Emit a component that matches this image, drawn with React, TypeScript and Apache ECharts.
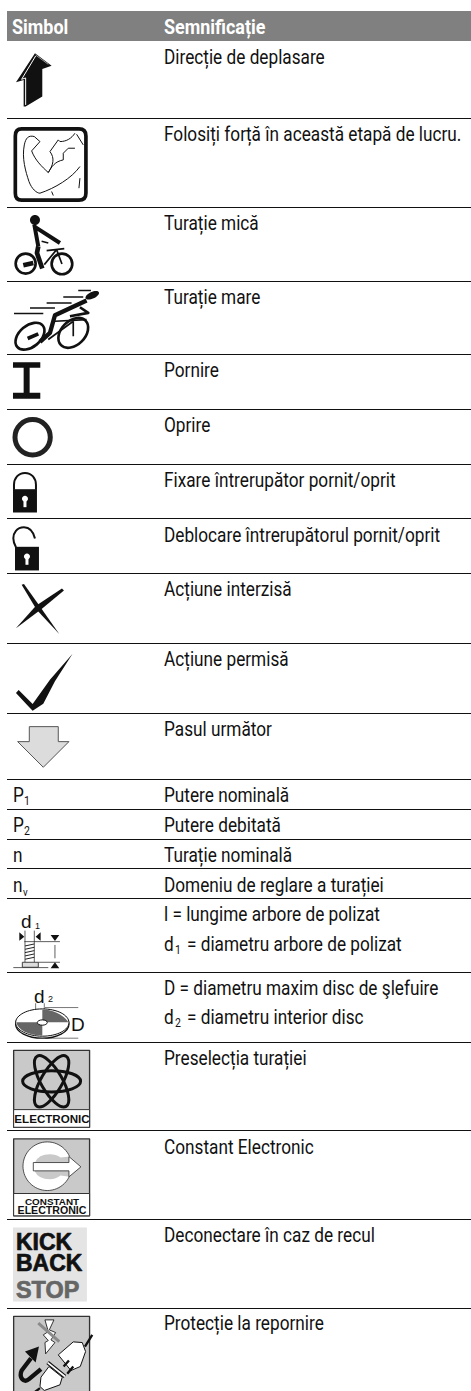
import React, { useEffect, useRef } from "react";
import * as echarts from "echarts";

const headers = ["Simbol", "Semnificație"];
const meanings = [
  "Direcție de deplasare",
  "Folosiți forță în această etapă de lucru.",
  "Turație mică",
  "Turație mare",
  "Pornire",
  "Oprire",
  "Fixare întrerupător pornit/oprit",
  "Deblocare întrerupătorul pornit/oprit",
  "Acțiune interzisă",
  "Acțiune permisă",
  "Pasul următor",
  "Putere nominală",
  "Putere debitată",
  "Turație nominală",
  "Domeniu de reglare a turației",
  "l = lungime arbore de polizat",
  "= diametru arbore de polizat",
  "D = diametru maxim disc de şlefuire",
  "= diametru interior disc",
  "Preselecția turației",
  "Constant Electronic",
  "Deconectare în caz de recul",
  "Protecție la repornire",
];
const baselines = [63, 140, 229, 303, 376, 431, 486, 541, 595, 665, 735, 801, 831, 861, 891, 920, 950, 994, 1023, 1064, 1153, 1241, 1329];
const rules = [118, 207, 281, 354, 409, 464, 518, 573, 643, 713, 779, 809, 839, 868, 898, 972, 1042, 1130, 1219, 1308];
const FONT = "Roboto, sans-serif";
const ARIAL = "'Liberation Sans', Arial, sans-serif";
const TX = 164;
const TS = 19.7;
const SX = 0.874;

const ell = (cx: number, cy: number, rx: number, ry: number, deg = 0) => {
  const a = (deg * Math.PI) / 180;
  const c = Math.cos(a), s = Math.sin(a), k = 0.5523;
  const p = (x: number, y: number) => `${(cx + x * rx * c - y * ry * s).toFixed(2)} ${(cy + x * rx * s + y * ry * c).toFixed(2)}`;
  return `M${p(1, 0)}C${p(1, k)} ${p(k, 1)} ${p(0, 1)}C${p(-k, 1)} ${p(-1, k)} ${p(-1, 0)}C${p(-1, -k)} ${p(-k, -1)} ${p(0, -1)}C${p(k, -1)} ${p(1, -k)} ${p(1, 0)}Z`;
};
const circ = (cx: number, cy: number, r: number) => ell(cx, cy, r, r);

type Ic = { d: string; o: [number, number]; fill?: string; stroke?: string; lw?: number };
const Z2: [number, number] = [0, 350];
const Z3: [number, number] = [0, 700];
const Z4: [number, number] = [0, 1041];
const Z5: [number, number] = [5, 45];
const Z6: [number, number] = [5, 208];
const Z7: [number, number] = [5, 900];
const Z9: [number, number] = [5, 1220];
const K = "#111";
const G = "#c9c9c9";

const icons: Ic[] = [
  // arrow
  { d: "M90 25L140 62L112 72L112 155L62 185L56 185L56 105L33 112Z", o: Z5, fill: K },
  { d: "M92 33L50 103L62 99L62 180", o: Z5, stroke: "#fff", lw: 3 },
  { d: "M92 30L130 58", o: Z5, stroke: "#ddd", lw: 2 },
  // arm
  { d: "M62 252H222Q243 252 243 273V445Q243 466 222 466H50Q31 466 31 445V273Q31 252 50 252Z", o: Z5, stroke: K, lw: 11, fill: "#fff" },
  { d: "M88 275C70 270 62 280 58 300C50 340 62 380 72 410C80 432 95 445 105 445C150 430 200 400 225 365", o: Z5, stroke: K, lw: 3 },
  { d: "M88 275L105 290L80 318C90 345 110 365 130 383C145 360 150 340 135 320L160 285L165 290C185 290 200 280 210 265", o: Z5, stroke: K, lw: 3 },
  { d: "M130 383C140 365 150 350 175 345L175 325L190 310L210 310", o: Z5, stroke: K, lw: 3 },
  { d: "M215 268L235 300M225 400L222 430M140 440L145 452", o: Z5, stroke: K, lw: 3 },
  // slow bike
  { d: circ(90, 36, 15), o: Z6, fill: K },
  { d: "M88 50L100 115M92 58L165 105", o: Z6, stroke: K, lw: 12 },
  { d: "M100 115L96 135L112 182", o: Z6, stroke: K, lw: 14 },
  { d: circ(62, 167, 30), o: Z6, stroke: K, lw: 8 },
  { d: circ(171, 168, 31), o: Z6, stroke: K, lw: 8 },
  { d: "M55 172L85 165", o: Z6, stroke: K, lw: 14 },
  { d: "M125 128L178 122M118 170L155 125L171 168M110 100L130 105", o: Z6, stroke: K, lw: 5 },
  // fast bike
  { d: ell(262, 262, 22, 10, -25), o: Z6, fill: K },
  { d: "M245 278L150 322L135 375L105 402", o: Z6, stroke: K, lw: 13 },
  { d: "M225 298L250 315L195 325", o: Z6, stroke: K, lw: 8 },
  { d: "M220 248H258M175 267H235M125 285H200M75 300H150M27 317H115", o: Z6, stroke: K, lw: 4.5 },
  { d: ell(75, 385, 50, 32, -40), o: Z6, stroke: K, lw: 8 },
  { d: ell(205, 375, 52, 36, -45), o: Z6, stroke: K, lw: 8 },
  { d: "M68 392L100 378", o: Z6, stroke: K, lw: 11 },
  { d: "M150 340L245 335M130 395L205 340L205 385", o: Z6, stroke: K, lw: 5 },
  // start
  { d: "M39 388H121V405H89V480H121V498H39V480H71V405H39Z", o: [0, 233], fill: K },
  // stop
  { d: circ(98, 262, 53), o: Z2, stroke: "#222", lw: 15 },
  // lock
  { d: "M42 420V405C42 385 55 369 75 369C95 369 108 385 108 405V420", o: Z2, stroke: K, lw: 6 },
  { d: "M39 418H111V488H39Z", o: Z2, fill: K },
  { d: circ(75, 447, 9), o: Z2, fill: "#fff" },
  { d: "M75 447V472", o: Z2, stroke: "#fff", lw: 9 },
  // unlock
  { d: "M105 566C100 545 90 532 72 532C50 532 40 550 40 565C40 575 44 585 48 592", o: Z2, stroke: K, lw: 6 },
  { d: "M45 591H117V662H45Z", o: Z2, fill: K },
  { d: circ(81, 620, 9), o: Z2, fill: "#fff" },
  { d: "M81 620V645", o: Z2, stroke: "#fff", lw: 9 },
  // cross
  { d: "M65 705L72 703L120 770L178 853L110 780Z", o: Z2, fill: K },
  { d: "M186 716L192 722L125 778L47 836L108 768Z", o: Z2, fill: K },
  // tick
  { d: "M48 1030L56 1021L98 1063L150 990L218 912L165 995L130 1062L98 1083L85 1070Z", o: Z2, fill: K },
  // next step
  { d: "M88 80H175V125H207L130 202L53 125H88Z", o: Z3, fill: "#dcdcdc", stroke: "#555", lw: 3 },
  // d1 figure
  { d: "M43 97L58 110L43 122ZM107 97L92 110L107 122ZM137 105H163L150 123ZM137 205H163L150 187Z", o: Z7, fill: K },
  { d: "M60 92V187M88 92V187M58 125H165M150 135V175M100 187H165M25 203H130", o: Z7, stroke: "#222", lw: 2.2 },
  { d: "M60 138L88 132M60 148L88 142M60 158L88 152M60 168L88 162M60 178L88 172", o: Z7, stroke: "#222", lw: 3 },
  { d: "M52 187H100V202H52Z", o: Z7, fill: "#ddd", stroke: "#222", lw: 2.5 },
  // disc
  { d: "M120 323H220M120 415H220M92 310V365M118 310V335", o: Z7, stroke: "#333", lw: 2 },
  { d: ell(112, 373, 80, 42), o: Z7, fill: "#fff", stroke: K, lw: 4 },
  { d: ell(112, 368, 80, 41), o: Z7, fill: "#fff", stroke: K, lw: 3 },
  { d: "M112 329C140 329 178 345 190 367L112 367Z", o: Z7, fill: "#666" },
  { d: "M34 367L112 367L112 407C70 407 38 390 34 367Z", o: Z7, fill: "#666" },
  { d: ell(112, 368, 15, 8), o: Z7, fill: "#fff", stroke: K, lw: 3 },
  // electronic box
  { d: "M41 28H269V259H41Z", o: Z4, fill: G, stroke: "#333", lw: 4 },
  { d: "M41 206H269V259H41Z", o: Z4, fill: "#fff", stroke: "#333", lw: 3 },
  { d: ell(155, 121, 87, 32), o: Z4, stroke: K, lw: 9 },
  { d: ell(155, 121, 87, 32, 60), o: Z4, stroke: K, lw: 9 },
  { d: ell(155, 121, 87, 32, -60), o: Z4, stroke: K, lw: 9 },
  // constant electronic box
  { d: "M41 294H269V525H41Z", o: Z4, fill: G, stroke: "#333", lw: 4 },
  { d: "M41 458H269V525H41Z", o: Z4, fill: "#fff", stroke: "#333", lw: 3 },
  { d: circ(142, 376, 73), o: Z4, fill: "#fff", stroke: "#333", lw: 2.5 },
  { d: "M105 365Q115 340 150 340Q168 340 182 350L225 345L225 410L182 404Q168 415 150 415Q115 415 105 392Z", o: Z4, fill: G },
  { d: "M100 365H207V347L243 378L207 408V390H100Z", o: Z4, fill: "#fff", stroke: "#333", lw: 2.5 },
  // kick back stop panel
  { d: "M39 560H261V782H39Z", o: Z4, fill: "#e4e4e4" },
  // protection box
  { d: "M41 827H269V1100H41Z", o: Z4, fill: G, stroke: "#333", lw: 4 },
  { d: "M120 300L147 300L133 330L152 338L138 360L150 368L122 402L120 368L130 362L115 345L130 335Z", o: Z9, fill: "#fff", stroke: K, lw: 2.5 },
  { d: "M100 310L163 365", o: Z9, stroke: "#8a8a8a", lw: 9 },
  { d: "M108 448L72 478C60 488 48 480 47 466C47 460 48 456 50 452L78 415", o: Z9, stroke: K, lw: 13 },
  { d: "M102 380L60 395L92 428Z", o: Z9, fill: K },
  { d: "M240 380L262 345", o: Z9, stroke: K, lw: 7 },
  { d: "M160 405L205 366L232 368L242 395L226 440L198 452Z", o: Z9, fill: "#fff", stroke: K, lw: 3 },
  { d: "M176 440L192 422M187 462L205 440", o: Z9, stroke: K, lw: 7 },
  { d: "M128 428L180 470", o: Z9, stroke: K, lw: 12 },
  { d: "M128 428L180 470", o: Z9, stroke: "#fff", lw: 5 },
  { d: "M132 440L172 472L165 495L118 512L105 500L108 472Z", o: Z9, fill: "#fff", stroke: K, lw: 3 },
  { d: "M105 505L85 520", o: Z9, stroke: K, lw: 7 },
];

const labelT = (text: string, x: number, base: number, size: number, extra: any = {}) => ({
  type: "text",
  x,
  y: base - size * 0.28,
  scaleX: extra.scaleX ?? 1,
  style: {
    text,
    fontSize: size,
    fontFamily: extra.family ?? FONT,
    fontWeight: extra.weight ?? "normal",
    fill: extra.fill ?? "#111",
    stroke: extra.stroke,
    lineWidth: extra.lineWidth,
    lineHeight: extra.lineHeight,
    align: extra.align ?? "left",
    verticalAlign: "middle",
  },
});

export default function App() {
  const ref = useRef<HTMLDivElement>(null);
  useEffect(() => {
    const chart = echarts.init(ref.current!, undefined, { renderer: "svg" });
    icons.forEach((ic, i) => {
      echarts.graphic.registerShape("ic" + i, echarts.graphic.extendPath(ic.d, {}) as any);
    });
    const graphic: any[] = [];
    graphic.push({ type: "rect", shape: { x: 7, y: 11, width: 464, height: 30 }, style: { fill: "#808080" } });
    graphic.push(labelT(headers[0], 12, 33, TS, { weight: "bold", fill: "#fff", scaleX: 0.91 }));
    graphic.push(labelT(headers[1], TX, 33, TS, { weight: "bold", fill: "#fff", scaleX: 0.91 }));
    rules.forEach((y) => graphic.push({ type: "rect", shape: { x: 7, y, width: 464, height: 1 }, style: { fill: "#111" } }));
    icons.forEach((ic, i) => {
      graphic.push({
        type: "ic" + i,
        x: ic.o[0],
        y: ic.o[1],
        scaleX: 1 / 3,
        scaleY: 1 / 3,
        style: { fill: ic.fill ?? "none", stroke: ic.stroke ?? "none", lineWidth: ic.lw ?? 1, lineJoin: "round" },
      });
    });
    meanings.forEach((m, i) => {
      if (m.startsWith("=")) {
        const sub = i === 16 ? "1" : "2";
        graphic.push(labelT("d", TX, baselines[i], TS, { scaleX: SX }));
        graphic.push(labelT(sub, TX + 11, baselines[i] + 4, 12, { scaleX: SX }));
        graphic.push(labelT(m, TX + 23, baselines[i], TS, { scaleX: SX }));
      } else {
        graphic.push(labelT(m, TX, baselines[i], TS, { scaleX: SX }));
      }
    });
    // symbol-column text
    graphic.push(labelT("P", 13, 801, TS, { scaleX: SX }));
    graphic.push(labelT("1", 24, 805, 12, { scaleX: SX }));
    graphic.push(labelT("P", 13, 831, TS, { scaleX: SX }));
    graphic.push(labelT("2", 24, 835, 12, { scaleX: SX }));
    graphic.push(labelT("n", 13, 861, TS, { scaleX: SX }));
    graphic.push(labelT("n", 13, 891, TS, { scaleX: SX }));
    graphic.push(labelT("v", 23, 895, 11, { scaleX: SX }));
    graphic.push(labelT("d", 21, 927, 19, { family: ARIAL }));
    graphic.push(labelT("1", 35, 929, 9, { family: ARIAL }));
    graphic.push(labelT("d", 34, 1002, 19, { family: ARIAL }));
    graphic.push(labelT("2", 48, 1002, 9, { family: ARIAL }));
    graphic.push(labelT("D", 71, 1030, 19, { family: ARIAL }));
    graphic.push(labelT("ELECTRONIC", 52, 1122, 11.6, { family: ARIAL, weight: "bold", align: "center" }));
    graphic.push(labelT("CONSTANT", 52, 1204, 9.9, { family: ARIAL, weight: "bold", align: "center" }));
    graphic.push(labelT("ELECTRONIC", 52, 1213, 10.6, { family: ARIAL, weight: "bold", align: "center" }));
    const heavy = { family: ARIAL, weight: "bold", stroke: "#111", lineWidth: 0.7 };
    graphic.push(labelT("KICK\nBACK", 16, 1258.5, 23, { ...heavy, lineHeight: 21 }));
    graphic.push(labelT("STOP", 16, 1297, 23.4, { ...heavy, fill: "#666", stroke: "#666" }));
    chart.setOption({ animation: false, graphic: { elements: graphic } });
    return () => chart.dispose();
  }, []);
  return <div ref={ref} style={{ position: "absolute", left: 0, top: 0, width: 471, height: 1391, background: "#fff" }} />;
}
